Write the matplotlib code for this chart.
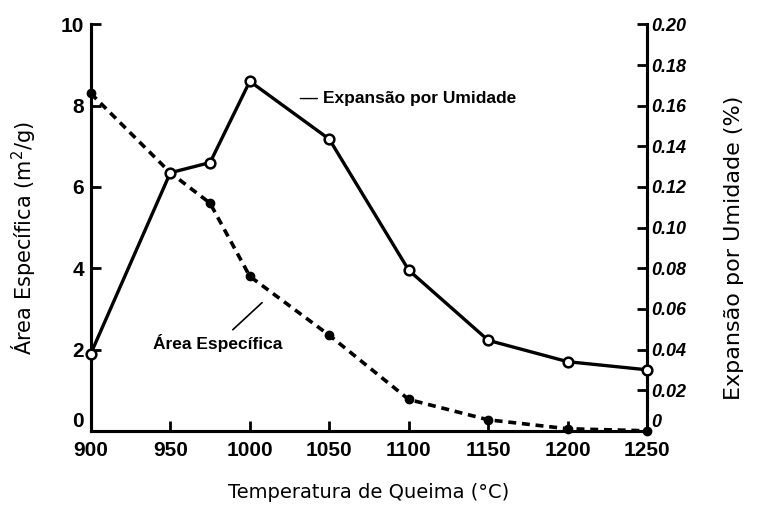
"""Área específica e expansão por umidade vs temperatura de queima"""

import matplotlib
matplotlib.use('Agg')
import matplotlib.pyplot as plt

# temperaturas de queima (C)
temps_area = [900, 950, 975, 1000, 1050, 1100, 1150, 1200, 1250]
area_esp = [8.3, 6.35, 5.6, 3.8, 2.35, 0.77, 0.27, 0.05, 0.0]

temps_epu = [900, 950, 975, 1000, 1050, 1100, 1150, 1200, 1250]
epu = [0.038, 0.127, 0.132, 0.172, 0.1435, 0.079, 0.0445, 0.034, 0.030]

xticks = [900, 950, 1000, 1050, 1100, 1150, 1200, 1250]
yticks_left = [0, 2, 4, 6, 8, 10]
yticks_right = [0, 0.02, 0.04, 0.06, 0.08, 0.10, 0.12, 0.14, 0.16, 0.18, 0.20]
ylabels_right = ['0', '0.02', '0.04', '0.06', '0.08', '0.10', '0.12',
                 '0.14', '0.16', '0.18', '0.20']

plt.rcParams['font.family'] = ['Liberation Sans', 'DejaVu Sans']

fig = plt.figure(figsize=(7.57, 5.08), dpi=100)
ax = fig.add_axes([0.120, 0.152, 0.735, 0.800])
ax2 = ax.twinx()

#area especifica - tracejada, pontos cheios
ax.plot(temps_area, area_esp, color='black', linestyle=(0, (2.2, 1.6)),
        linewidth=2.6, marker='o', markersize=6, markerfacecolor='black',
        clip_on=False, zorder=3)

#expansao por umidade - continua, circulos abertos
ax2.plot(temps_epu, epu, color='black', linestyle='-', linewidth=2.4,
         marker='o', markersize=7, markerfacecolor='white',
         markeredgewidth=1.8, clip_on=False, zorder=3)

ax.set_xlim(900, 1250)
ax.set_ylim(0, 10)
ax2.set_ylim(0, 0.20)

ax.set_xticks(xticks)
ax.set_xticklabels([str(t) for t in xticks], fontsize=15, fontweight='bold')
ax.set_yticks(yticks_left)
ax.set_yticklabels([str(t) for t in yticks_left], fontsize=15, fontweight='bold')
ax2.set_yticks(yticks_right)
ax2.set_yticklabels(ylabels_right, fontsize=13, fontweight='bold', fontstyle='italic')

# os zeros ficam acima dos rotulos do eixo x
ax.get_yticklabels()[0].set_verticalalignment('bottom')
ax2.get_yticklabels()[0].set_verticalalignment('bottom')

for a in (ax, ax2):
    a.spines['top'].set_visible(False)
    for s in a.spines.values():
        s.set_linewidth(2.2)
ax.tick_params(axis='x', direction='in', length=7, width=2, pad=7)
ax.tick_params(axis='y', direction='in', length=7, width=2, pad=5)
ax2.tick_params(axis='y', direction='in', length=7, width=2, pad=3)

ax.set_xlabel('Temperatura de Queima (°C)', fontsize=14, family='DejaVu Sans',
              labelpad=17)
ax.set_ylabel('Área Específica (m$^2$/g)', fontsize=15, family='DejaVu Sans',
              labelpad=16)
ax2.set_ylabel('Expansão por Umidade (%)', fontsize=16, family='DejaVu Sans',
               labelpad=27)
ax.yaxis.label.set_y(0.475)
ax2.yaxis.label.set_y(0.45)

#rotulos das curvas
ax2.annotate('Expansão por Umidade', xy=(1030, 0.1635), xytext=(1046, 0.1635),
             fontsize=12.5, fontweight='bold', va='center', ha='left',
             arrowprops=dict(arrowstyle='-', color='black', lw=1))
ax.annotate('Área Específica', xy=(1009, 3.2), xytext=(980, 2.15),
            fontsize=12.5, fontweight='bold', va='center', ha='center',
            arrowprops=dict(arrowstyle='-', color='black', lw=1.2))

fig.savefig('out.png', dpi=100)
